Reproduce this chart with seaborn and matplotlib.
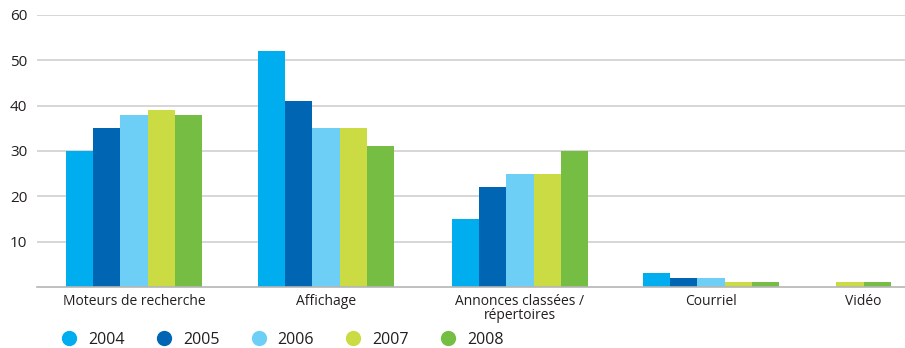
import numpy as np
import pandas as pd
import matplotlib
matplotlib.use("Agg")
import matplotlib.pyplot as plt
from matplotlib.lines import Line2D
import seaborn as sns

# Data
categories = ["Moteurs de recherche", "Affichage", "Annonces classées /\nrépertoires", "Courriel", "Vidéo"]
years = ["2004", "2005", "2006", "2007", "2008"]
v2004 = [30, 52, 15, 3, np.nan]
v2005 = [35, 41, 22, 2, np.nan]
v2006 = [38, 35, 25, 2, np.nan]
v2007 = [39, 35, 25, 1, 1]
v2008 = [38, 31, 30, 1, 1]
yticks = [10, 20, 30, 40, 50, 60]

colors = ["#00ADEF", "#0066B3", "#6DCFF6", "#CADB43", "#76BE43"]

# Layout: group centres along the x axis, and bar width (in category units)
group_pos = [0.0, 0.995, 2.0, 2.99, 3.78]
bar_w = 0.141

series = [v2004, v2005, v2006, v2007, v2008]
rows = []
for ci, cat in enumerate(categories):
    present = [(yi, s[ci]) for yi, s in enumerate(series) if not np.isnan(s[ci])]
    n = len(present)
    for k, (yi, val) in enumerate(present):
        rows.append({"category": cat, "year": years[yi], "value": val,
                     "xpos": round(group_pos[ci] + (k - (n - 1) / 2) * bar_w, 4)})
df = pd.DataFrame(rows)

sns.set_theme(style="white")
plt.rcParams["font.family"] = ["Open Sans", "DejaVu Sans"]
text_col = "#231F20"

fig = plt.figure(figsize=(9.05, 3.48), dpi=100)
ax = fig.add_axes([37 / 905, 61 / 348, 1 - 37 / 905, (287 - 15) / 348])

sns.barplot(data=df, x="xpos", y="value", hue="year", hue_order=years,
            palette=colors, native_scale=True, dodge=False, width=1.0,
            saturation=1, linewidth=0, legend=False, ax=ax, errorbar=None)

ax.set_xlim(-0.503, 3.995)
ax.set_ylim(0, 60)
ax.set_yticks(yticks)
ax.set_yticklabels([str(t) for t in yticks], fontsize=11, color=text_col)
ax.set_xticks(group_pos)
ax.set_xticklabels(categories, fontsize=10, color=text_col, linespacing=0.92,
                   va="top")
ax.tick_params(axis="x", length=0, pad=5)
ax.tick_params(axis="y", length=0, pad=7)
ax.set_xlabel("")
ax.set_ylabel("")
ax.grid(axis="y", color="#CFCFCF", linewidth=1.2)
ax.set_axisbelow(True)
for side in ["top", "right", "left"]:
    ax.spines[side].set_visible(False)
ax.spines["bottom"].set_color("#B5B5B5")
ax.spines["bottom"].set_linewidth(1.2)

handles = [Line2D([0], [0], marker="o", linestyle="", markersize=11,
                  markerfacecolor=c, markeredgewidth=0) for c in colors]
fig.legend(handles, years, loc="center left", bbox_to_anchor=(61 / 905, 1 - 340 / 348),
           ncol=5, frameon=False, fontsize=11.5, handletextpad=0.7,
           columnspacing=1.95, handlelength=1.0, borderaxespad=0, borderpad=0,
           labelcolor=text_col)

fig.savefig("out.png", dpi=100)
